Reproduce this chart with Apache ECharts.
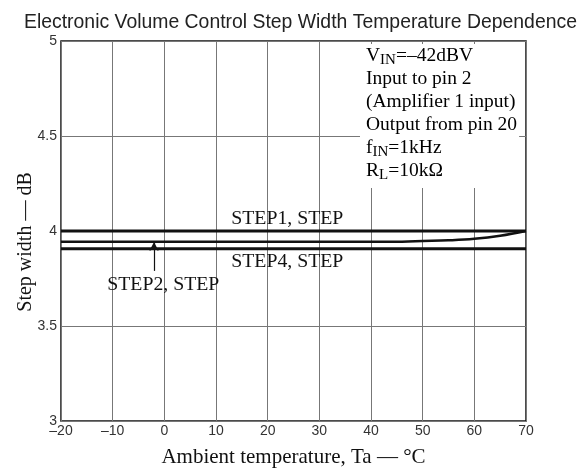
<!DOCTYPE html>
<html><head><meta charset="utf-8">
<script src="https://cdn.jsdelivr.net/npm/echarts@6/dist/echarts.min.js"></script>
<style>html,body{margin:0;padding:0;background:#fff}#c{width:585px;height:468px}</style>
</head><body><div id="c"></div>
<script>
const xTicks = [-20, -10, 0, 10, 20, 30, 40, 50, 60, 70];
const yTicks = [3, 3.5, 4, 4.5, 5];
const step1 = [[-20, 4.0], [70, 4.0]];
const step2 = [[-20, 3.944], [40, 3.944], [46, 3.944], [50, 3.947], [55, 3.951], [60, 3.959], [65, 3.975], [70, 4.0]];
const step4 = [[-20, 3.906], [70, 3.906]];
const arrowFrom = [-2, 3.79];
const arrowTo = [-2, 3.942];
const labels = [
  {text: 'STEP1, STEP', coord: [23.8, 4.063]},
  {text: 'STEP4, STEP', coord: [23.8, 3.837]},
  {text: 'STEP2, STEP', coord: [-0.2, 3.716]}
];
const serif = '"Liberation Serif", "DejaVu Serif", serif';
const sans = '"Liberation Sans", Arial, sans-serif';
const chart = echarts.init(document.getElementById('c'));
const fmt = v => String(v).replace('-', '\u2013');
chart.setOption({
  animation: false,
  backgroundColor: '#fff',
  title: {
    text: 'Electronic Volume Control Step Width Temperature Dependence',
    left: 19, top: 8,
    textStyle: {fontFamily: sans, fontSize: 19.4, fontWeight: 'normal', color: '#222'}
  },
  grid: {left: 61, right: 59, top: 41, bottom: 47, outerBoundsMode: 'none', containLabel: false,
    show: true, borderColor: '#111', borderWidth: 1.5, backgroundColor: 'transparent'},
  xAxis: {
    type: 'value', min: -20, max: 70, interval: 10,
    name: 'Ambient temperature, Ta \u2014 \u00B0C', nameLocation: 'middle', nameGap: 26,
    nameTextStyle: {fontFamily: serif, fontSize: 21, color: '#111'},
    axisLine: {show: false}, axisTick: {show: false},
    axisLabel: {formatter: fmt, fontFamily: sans, fontSize: 14, color: '#333', margin: 3},
    splitLine: {show: true, lineStyle: {color: '#777', width: 1}}
  },
  yAxis: {
    type: 'value', min: 3, max: 5, interval: 0.5,
    name: 'Step width \u2014 dB', nameLocation: 'middle', nameGap: 25, nameMoveOverlap: false,
    nameTextStyle: {fontFamily: serif, fontSize: 20, color: '#111', padding: [0, 22, 0, 0]},
    axisLine: {show: false}, axisTick: {show: false},
    axisLabel: {fontFamily: sans, fontSize: 14, color: '#333', margin: 4},
    splitLine: {show: true, lineStyle: {color: '#777', width: 1}}
  },
  series: [
    {type: 'line', data: step1, symbol: 'none', lineStyle: {color: '#111', width: 3}},
    {type: 'line', data: step2, symbol: 'none', smooth: 0.4, lineStyle: {color: '#111', width: 2.5},
      markLine: {
        silent: true, symbol: ['none', 'arrow'], symbolSize: [7, 9],
        lineStyle: {color: '#111', width: 1.2, type: 'solid'}, label: {show: false},
        data: [[{coord: arrowFrom}, {coord: arrowTo}]]
      }},
    {type: 'line', data: step4, symbol: 'none', lineStyle: {color: '#111', width: 3},
      markPoint: {
        symbol: 'circle', symbolSize: 0, silent: true,
        label: {show: true, position: 'inside', formatter: p => p.name, fontFamily: serif, fontSize: 19.8, color: '#111'},
        data: labels.map(l => ({name: l.text, coord: l.coord}))
      }}
  ],
  graphic: [{
    type: 'text', left: 360, top: 44, z: 10,
    style: {
      text: '{n|V}{s|IN}{n|=\u201342dBV}\n{n|Input to pin 2}\n{n|(Amplifier 1 input)}\n{n|Output from pin 20}\n{n|f}{s|IN}{n|=1kHz}\n{n|R}{s|L}{n|=10k\u03A9}',
      backgroundColor: '#fff', padding: [2, 2, 4, 6],
      rich: {
        n: {fontFamily: serif, fontSize: 19.5, color: '#111', lineHeight: 23, verticalAlign: 'top'},
        s: {fontFamily: serif, fontSize: 15, color: '#111', lineHeight: 23, padding: [7, 0, 0, 0], verticalAlign: 'top'}
      }
    }
  }]
});
</script></body></html>
